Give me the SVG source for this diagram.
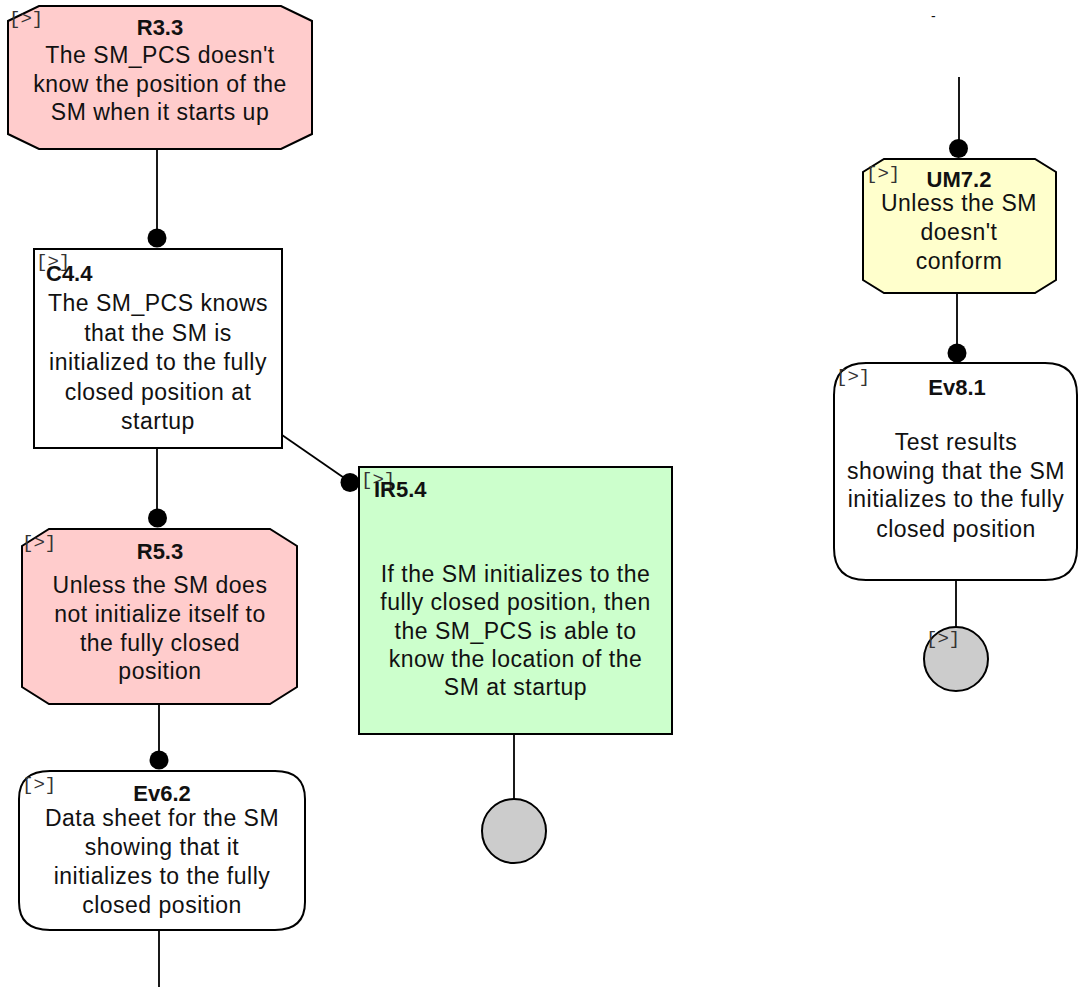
<svg xmlns="http://www.w3.org/2000/svg" width="1078" height="987" viewBox="0 0 1078 987">
  <style>
    .node { stroke: #000; stroke-width: 2; }
    .req { fill: #ffcccc; }
    .ctx { fill: #ffffff; }
    .inf { fill: #ccffcc; }
    .um { fill: #ffffcc; }
    .ev { fill: #ffffff; }
    .term { fill: #cccccc; stroke: #000; stroke-width: 2; }
    .edge { stroke: #000; stroke-width: 1.8; fill: none; }
    .dot { fill: #000; }
    .t { font-family: "Liberation Sans", Arial, sans-serif; font-size: 23px; letter-spacing: 0.5px; fill: #111; text-anchor: middle; }
    .h { font-family: "Liberation Sans", Arial, sans-serif; font-size: 22px; font-weight: bold; fill: #111; }
    .tag { font-family: "Liberation Mono", "Courier New", monospace; font-size: 19px; fill: #333; }
  </style>

  <!-- connectors -->
  <g id="connectors">
    <line class="edge" x1="157" y1="149" x2="157" y2="238"/>
    <circle class="dot" cx="157" cy="238" r="9.5"/>
    <line class="edge" x1="157" y1="448" x2="157" y2="518"/>
    <circle class="dot" cx="157.5" cy="518" r="9.5"/>
    <line class="edge" x1="159" y1="704" x2="159" y2="760"/>
    <circle class="dot" cx="159" cy="760" r="9.5"/>
    <line class="edge" x1="159" y1="930" x2="159" y2="987"/>
    <line class="edge" x1="282" y1="435" x2="350" y2="482"/>
    <circle class="dot" cx="350" cy="482.5" r="9.5"/>
    <line class="edge" x1="514" y1="734" x2="514" y2="799"/>
    <line class="edge" x1="959" y1="77" x2="959" y2="148"/>
    <circle class="dot" cx="958.5" cy="148.5" r="9.5"/>
    <line class="edge" x1="957" y1="293" x2="957" y2="353"/>
    <circle class="dot" cx="957" cy="353" r="9.5"/>
    <line class="edge" x1="956" y1="580" x2="956" y2="627"/>
  </g>

  <text class="t" x="933.5" y="21" style="font-size:14px">-</text>

  <!-- R3.3 -->
  <g id="R3.3">
    <polygon class="node req" points="39,6 281,6 312,21 312,134 281,149 39,149 8,134 8,21"/>
    <text class="tag" x="9" y="24">[&gt;]</text>
    <text class="h" x="160" y="35" text-anchor="middle">R3.3</text>
    <text class="t" x="160" y="63">The SM_PCS doesn't</text>
    <text class="t" x="160" y="92">know the position of the</text>
    <text class="t" x="160" y="120">SM when it starts up</text>
  </g>

  <!-- C4.4 -->
  <g id="C4.4">
    <rect class="node ctx" x="34" y="249" width="248" height="199"/>
    <text class="tag" x="36" y="267">[&gt;]</text>
    <text class="h" x="46" y="281">C4.4</text>
    <text class="t" x="158" y="311">The SM_PCS knows</text>
    <text class="t" x="158" y="340.5">that the SM is</text>
    <text class="t" x="158" y="370">initialized to the fully</text>
    <text class="t" x="158" y="399.5">closed position at</text>
    <text class="t" x="158" y="429">startup</text>
  </g>

  <!-- R5.3 -->
  <g id="R5.3">
    <polygon class="node req" points="49,529 270,529 297,546 297,687 270,704 49,704 22,687 22,546"/>
    <text class="tag" x="22" y="548">[&gt;]</text>
    <text class="h" x="160" y="559" text-anchor="middle">R5.3</text>
    <text class="t" x="160" y="593">Unless the SM does</text>
    <text class="t" x="160" y="622">not initialize itself to</text>
    <text class="t" x="160" y="651">the fully closed</text>
    <text class="t" x="160" y="679">position</text>
  </g>

  <!-- Ev6.2 -->
  <g id="Ev6.2">
    <path class="node ev" d="M50,771 H275 Q305,771 305,799 V902 Q305,930 275,930 H50 Q19,930 19,902 V799 Q19,771 50,771 Z"/>
    <text class="tag" x="22" y="790">[&gt;]</text>
    <text class="h" x="162" y="801" text-anchor="middle">Ev6.2</text>
    <text class="t" x="162" y="826">Data sheet for the SM</text>
    <text class="t" x="162" y="855">showing that it</text>
    <text class="t" x="162" y="884">initializes to the fully</text>
    <text class="t" x="162" y="913">closed position</text>
  </g>

  <!-- IR5.4 -->
  <g id="IR5.4">
    <rect class="node inf" x="359" y="467" width="313" height="267"/>
    <text class="tag" x="361" y="485">[&gt;]</text>
    <text class="h" x="374" y="497">IR5.4</text>
    <text class="t" x="515.5" y="582">If the SM initializes to the</text>
    <text class="t" x="515.5" y="610">fully closed position, then</text>
    <text class="t" x="515.5" y="638.5">the SM_PCS is able to</text>
    <text class="t" x="515.5" y="667">know the location of the</text>
    <text class="t" x="515.5" y="695">SM at startup</text>
  </g>

  <!-- IR5.4 terminal -->
  <g id="T5.4">
    <circle class="term" cx="514" cy="831" r="32"/>
  </g>

  <!-- UM7.2 -->
  <g id="UM7.2">
    <polygon class="node um" points="884,159 1035,159 1056,172 1056,280 1035,293 884,293 863,280 863,172"/>
    <text class="tag" x="866" y="179">[&gt;]</text>
    <text class="h" x="959" y="187" text-anchor="middle">UM7.2</text>
    <text class="t" x="959" y="210.5">Unless the SM</text>
    <text class="t" x="959" y="240">doesn't</text>
    <text class="t" x="959" y="269">conform</text>
  </g>

  <!-- Ev8.1 -->
  <g id="Ev8.1">
    <path class="node ev" d="M866,363 H1045 Q1077,363 1077,395 V548 Q1077,580 1045,580 H866 Q834,580 834,548 V395 Q834,363 866,363 Z"/>
    <text class="tag" x="836" y="382">[&gt;]</text>
    <text class="h" x="957" y="395" text-anchor="middle">Ev8.1</text>
    <text class="t" x="956" y="450">Test results</text>
    <text class="t" x="956" y="479">showing that the SM</text>
    <text class="t" x="956" y="507">initializes to the fully</text>
    <text class="t" x="956" y="537">closed position</text>
  </g>

  <!-- Ev8.1 terminal -->
  <g id="T8.1">
    <circle class="term" cx="956" cy="659" r="32"/>
    <text class="tag" x="926" y="644">[&gt;]</text>
  </g>
</svg>
